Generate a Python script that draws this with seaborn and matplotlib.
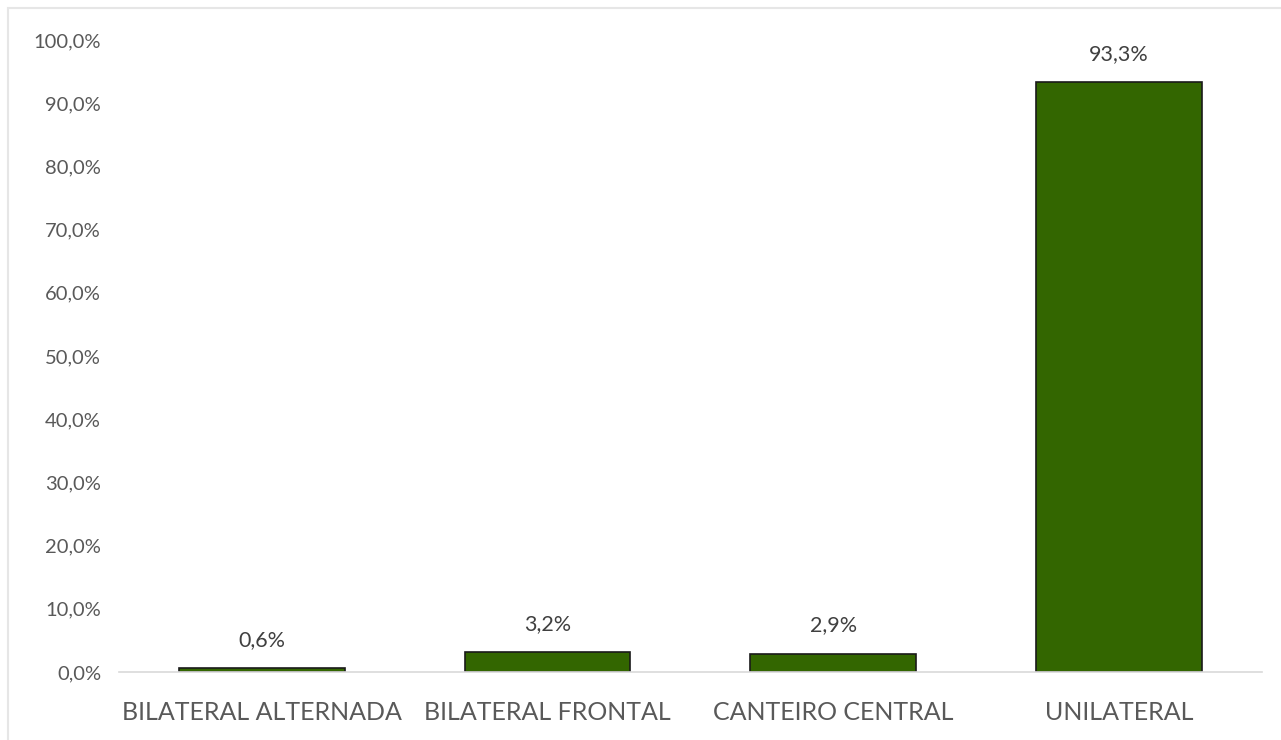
import matplotlib
matplotlib.use("Agg")
import matplotlib.pyplot as plt
import seaborn as sns
import pandas as pd
from matplotlib.ticker import FuncFormatter, MultipleLocator
from matplotlib.patches import Rectangle

# data
categorias = ["BILATERAL ALTERNADA", "BILATERAL FRONTAL", "CANTEIRO CENTRAL", "UNILATERAL"]
percentuais = [0.006, 0.032, 0.029, 0.933]
rotulos = ["0,6%", "3,2%", "2,9%", "93,3%"]

df = pd.DataFrame({"tipo": categorias, "pct": percentuais})

sns.set_style("white")
plt.rcParams["font.family"] = ["Lato", "DejaVu Sans"]

fig = plt.figure(figsize=(12.81, 7.40), dpi=100)
ax = fig.add_axes([0.093, 0.092, 0.892, 0.854])

sns.barplot(data=df, x="tipo", y="pct", color="#336600", saturation=1,
            width=0.58, edgecolor="#1a1a1a", linewidth=1.2, ax=ax)

# value labels
for p, txt in zip(ax.patches, rotulos):
    ax.annotate(txt, (p.get_x() + p.get_width() / 2, p.get_height()),
                xytext=(0, 13), textcoords="offset points", ha="center", va="bottom",
                fontsize=15.5, color="#404040")

ax.set_ylim(0, 1.0)
ax.yaxis.set_major_locator(MultipleLocator(0.1))
ax.yaxis.set_major_formatter(FuncFormatter(lambda v, _: f"{v*100:.1f}%".replace(".", ",")))
ax.set_xlabel("")
ax.set_ylabel("")
ax.tick_params(axis="y", labelsize=14.5, labelcolor="#595959", length=0, pad=13)
ax.tick_params(axis="x", labelsize=18, labelcolor="#595959", length=0, pad=21)

for s in ["top", "right", "left"]:
    ax.spines[s].set_visible(False)
ax.spines["bottom"].set_color("#d9d9d9")
ax.spines["bottom"].set_linewidth(1.2)

# faint chart frame
fig.patches.append(Rectangle((0.006, -0.1), 1.2, 1.089, transform=fig.transFigure,
                             fill=False, edgecolor="#e6e6e6", linewidth=1.5))

fig.savefig("out.png", dpi=100)
